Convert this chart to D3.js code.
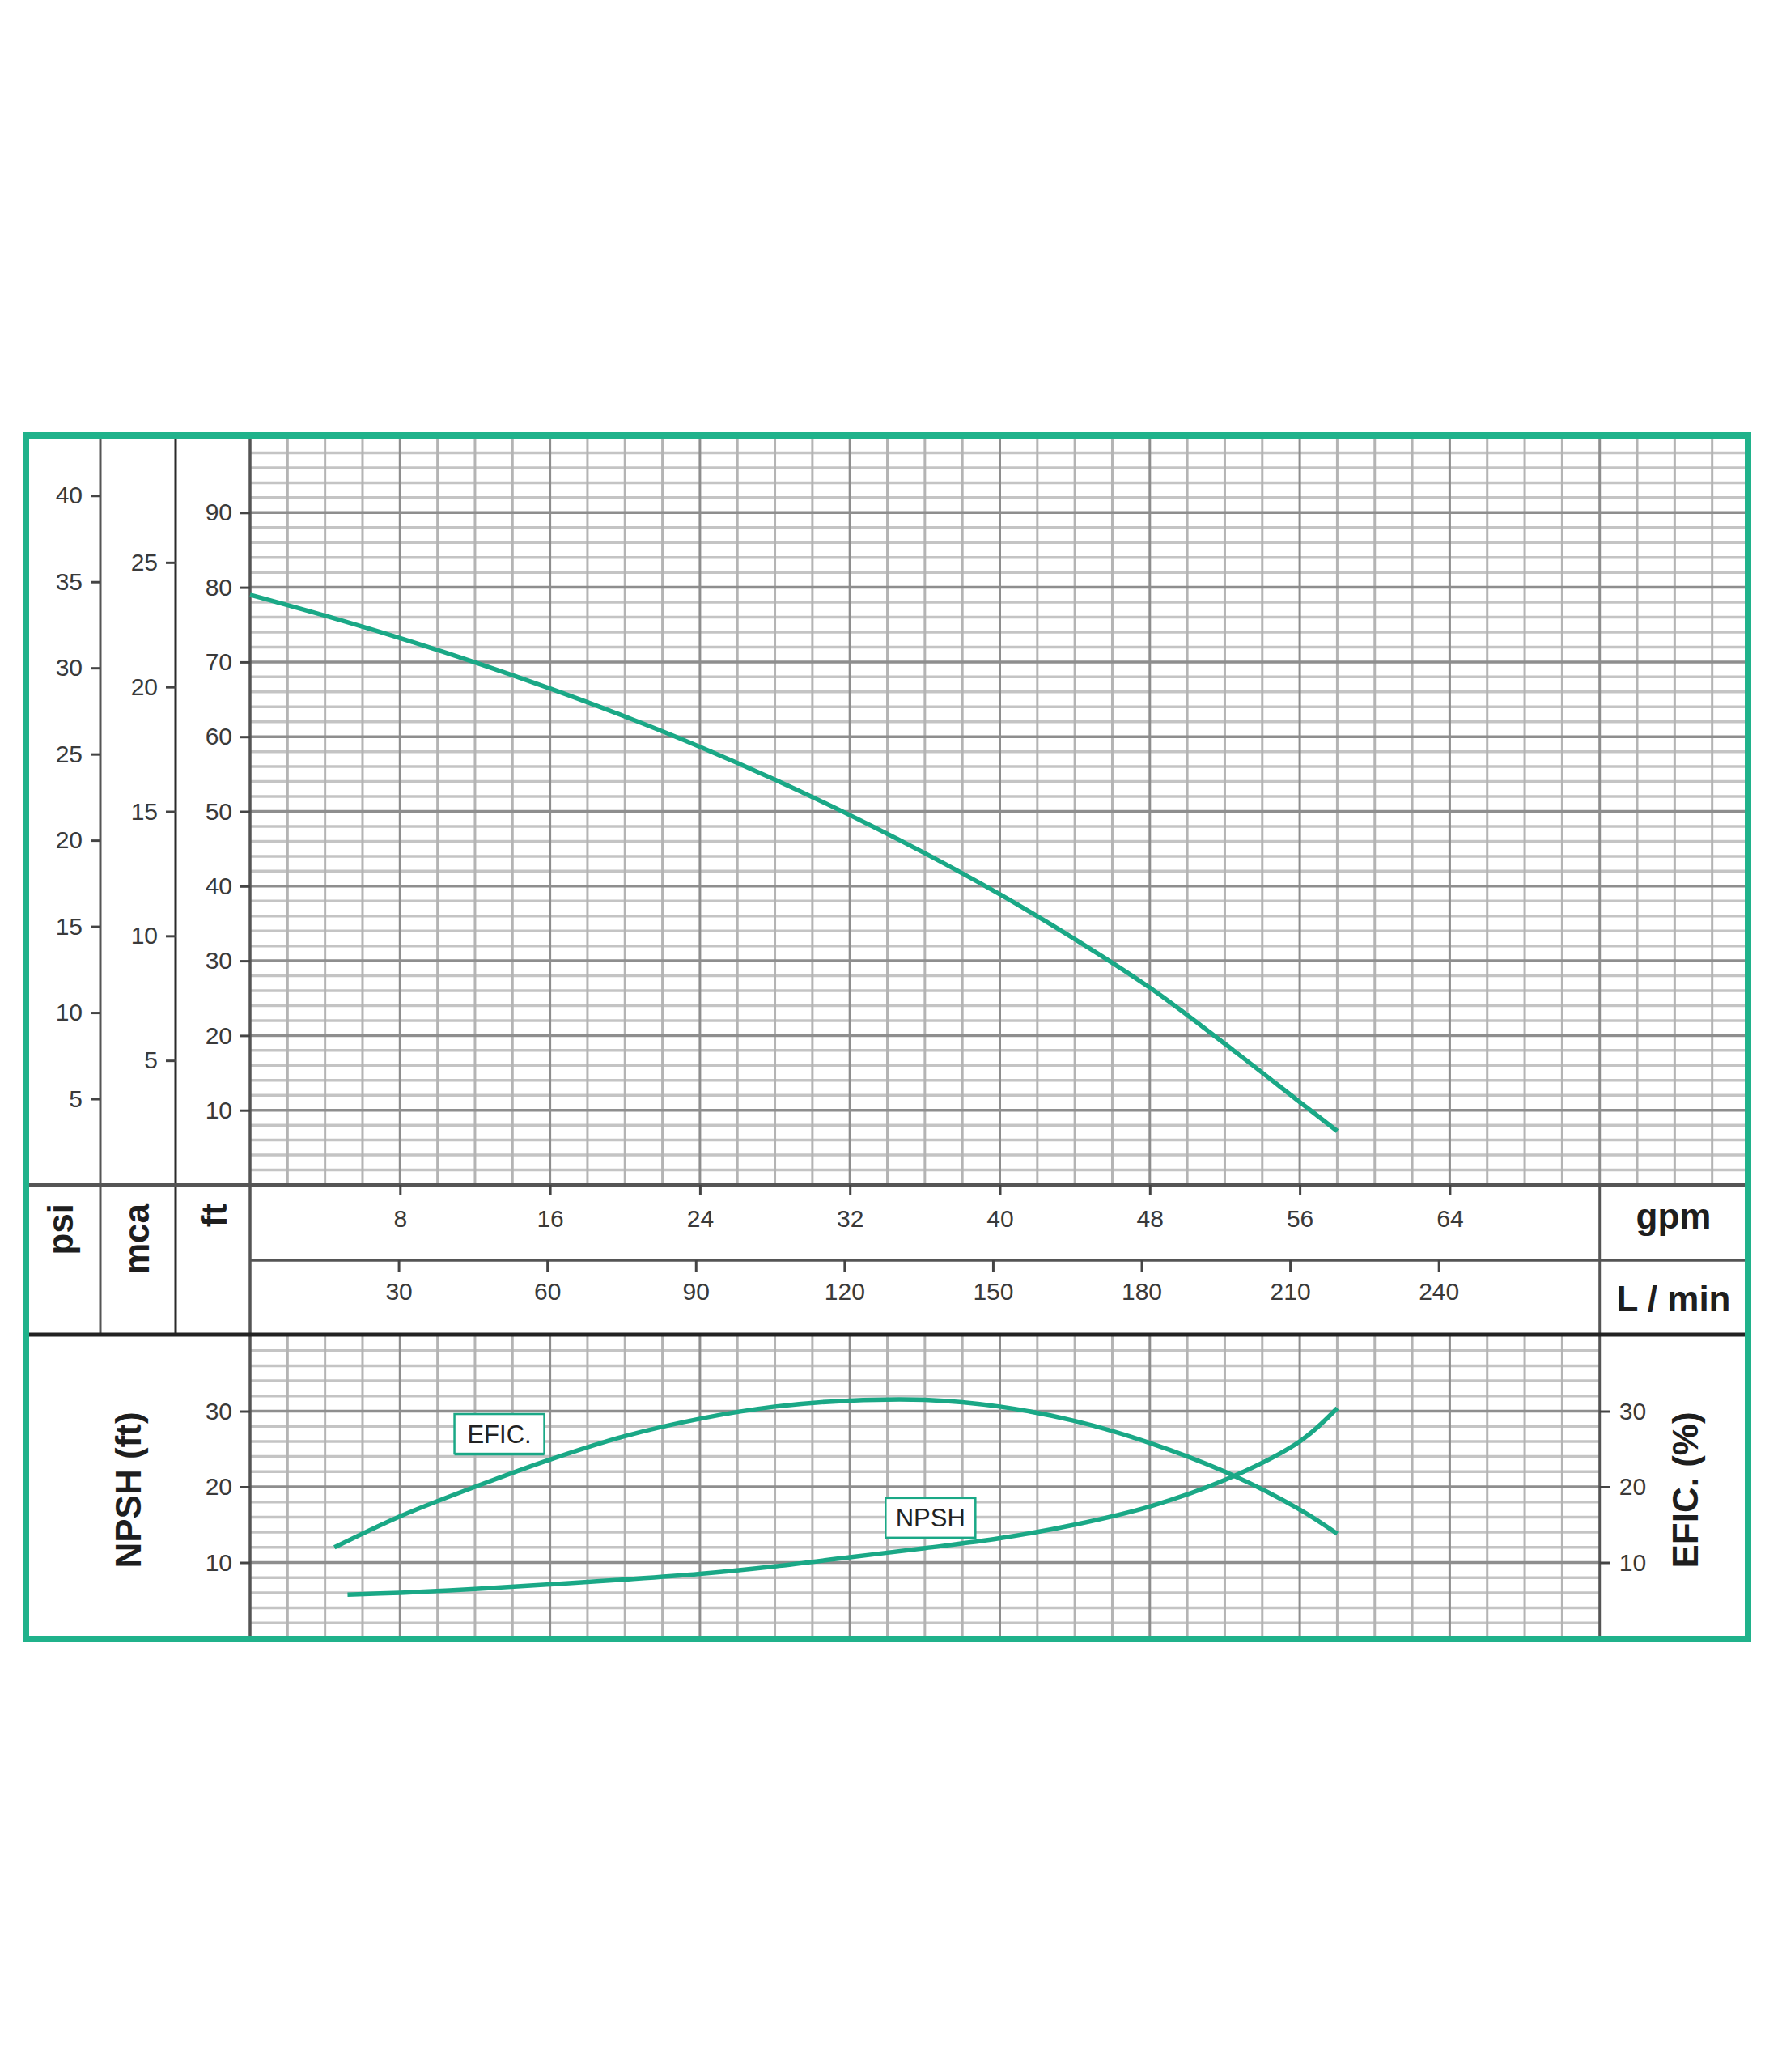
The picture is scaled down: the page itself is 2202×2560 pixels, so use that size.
<!DOCTYPE html>
<html><head><meta charset="utf-8">
<script src="https://cdn.jsdelivr.net/npm/d3@7"></script>
<style>
html,body{margin:0;padding:0;background:#fff;}
svg{display:block;}
text{font-family:"Liberation Sans",Arial,Helvetica,sans-serif;}
</style>
</head><body>
<svg id="c" width="2202" height="2560"></svg>
<script>
// ---------- data ----------
const gpmTicks  = [8,16,24,32,40,48,56,64];
const lpmTicks  = [30,60,90,120,150,180,210,240];
const psiTicks  = [5,10,15,20,25,30,35,40];
const mcaTicks  = [5,10,15,20,25];
const ftTicks   = [10,20,30,40,50,60,70,80,90];
const npshTicks = [10,20,30];
const eficTicks = [10,20,30];

const headGpm = [0,4,8,12,16,20,24,28,32,36,40,44,48,52,56,58];
const headFt  = [79.0,76.2,73.2,69.95,66.45,62.7,58.65,54.25,49.5,44.4,38.9,32.9,26.4,18.9,11.1,7.2];

const eficGpm = [4.5,8,12,16,20,24,28,32,36,40,44,48,52,56,58];
const eficPct = [12.0,16.1,20.0,23.6,26.7,29.0,30.6,31.4,31.5,30.6,28.7,25.8,22.0,17.0,13.8];

const npshGpm = [5.2,8,12,16,20,24,28,32,36,40,44,48,52,56,58];
const npshFt  = [5.75,6.0,6.5,7.1,7.75,8.5,9.5,10.7,11.9,13.2,15.0,17.4,20.9,26.0,30.4];

const labelText = ["EFIC.","NPSH"];
const labelGpm  = [13.3,36.3];
const labelVal  = [27.0,15.9];

// ---------- layout ----------
const L = 32, R = 2160, T = 538, B = 2025;
const colPsi = 124, colMca = 217, plotL = 309;
const headBottom = 1464, rowMid = 1557, rowBottom = 1649;
const GREEN_BORDER = "#20b28b", GREEN = "#1aa886";
const TXT = "#3a3a3a";

const x    = d3.scaleLinear([0,80],[plotL,2162]);
const xL   = d3.scaleLinear([0,80*3.785],[plotL,2162]);
const yFt  = d3.scaleLinear([0,100],[headBottom,541]);
const yPsi = d3.scaleLinear([0,100/2.307],[headBottom,541]);
const yMca = d3.scaleLinear([0,30],[headBottom,541]);
const yLo  = d3.scaleLinear([0,40],[2024,1650]);
const lowR = x(72);

const svg = d3.select("#c");
svg.append("rect").attr("width",2202).attr("height",2560).attr("fill","#fff");

// ---------- grids ----------
const g = svg.append("g");
function hGrid(vals, scale, x1, x2, major){
  g.selectAll(null).data(vals).enter().append("line")
    .attr("x1",x1).attr("x2",x2)
    .attr("y1",d=>scale(d)).attr("y2",d=>scale(d))
    .attr("stroke", major ? "#8e8e8e" : "#c4c4c4")
    .attr("stroke-width", 3.5);
}
function vGrid(vals, y1, y2, major){
  g.selectAll(null).data(vals).enter().append("line")
    .attr("y1",y1).attr("y2",y2)
    .attr("x1",d=>x(d)).attr("x2",d=>x(d))
    .attr("stroke", major ? "#8e8e8e" : "#b4b4b4")
    .attr("stroke-width", 3);
}
const hMinor = d3.range(2,100,2).filter(v=>v%10!==0);
const hMajor = d3.range(10,100,10);
const vMinorHead = d3.range(2,80,2).filter(v=>v%8!==0);
const vMajorHead = d3.range(8,80,8);
hGrid(hMinor, yFt, plotL, R, false);
vGrid(vMinorHead, yFt(100), headBottom, false);
vGrid(vMajorHead, yFt(100), headBottom, true);
hGrid(hMajor, yFt, plotL, R, true);
const lMinor = d3.range(2,40,2).filter(v=>v%10!==0);
const lMajor = [10,20,30];
const vMinorLow = d3.range(2,72,2).filter(v=>v%8!==0);
const vMajorLow = d3.range(8,72,8);
hGrid(lMinor, yLo, plotL, lowR, false);
vGrid(vMinorLow, rowBottom, B, false);
vGrid(vMajorLow, rowBottom, B, true);
hGrid(lMajor, yLo, plotL, lowR, true);

// ---------- frame lines ----------
const frame = svg.append("g").attr("fill","none");
function ln(x1,y1,x2,y2,c,w){frame.append("line").attr("x1",x1).attr("y1",y1).attr("x2",x2).attr("y2",y2).attr("stroke",c).attr("stroke-width",w);}
ln(colPsi,T,colPsi,rowBottom,"#555",3);
ln(colMca,T,colMca,rowBottom,"#2a2a2a",3);
ln(plotL,T,plotL,B,"#555",3.5);
ln(lowR,headBottom,lowR,B,"#555",3);
ln(L,headBottom,R,headBottom,"#555",4);
ln(plotL,rowMid,R,rowMid,"#555",3.5);
ln(L,rowBottom,R,rowBottom,"#222",5);

// ---------- axes ----------
function styleAxis(sel, fs){
  sel.select(".domain").remove();
  sel.selectAll(".tick line").attr("stroke","#444").attr("stroke-width",3);
  sel.selectAll(".tick text").attr("fill",TXT).attr("font-size",fs)
     .attr("font-family",'"Liberation Sans",Arial,sans-serif');
}
const fsT = 30;
svg.append("g").attr("transform",`translate(${colPsi},0)`)
  .call(d3.axisLeft(yPsi).tickValues(psiTicks).tickSize(12).tickPadding(10).tickFormat(d3.format("d")))
  .call(s=>styleAxis(s,fsT));
svg.append("g").attr("transform",`translate(${colMca},0)`)
  .call(d3.axisLeft(yMca).tickValues(mcaTicks).tickSize(12).tickPadding(10).tickFormat(d3.format("d")))
  .call(s=>styleAxis(s,fsT));
svg.append("g").attr("transform",`translate(${plotL},0)`)
  .call(d3.axisLeft(yFt).tickValues(ftTicks).tickSize(12).tickPadding(10).tickFormat(d3.format("d")))
  .call(s=>styleAxis(s,fsT));
svg.append("g").attr("transform",`translate(0,${headBottom})`)
  .call(d3.axisBottom(x).tickValues(gpmTicks).tickSize(13).tickPadding(18).tickFormat(d3.format("d")))
  .call(s=>styleAxis(s,fsT));
svg.append("g").attr("transform",`translate(0,${rowMid})`)
  .call(d3.axisBottom(xL).tickValues(lpmTicks).tickSize(14).tickPadding(14).tickFormat(d3.format("d")))
  .call(s=>styleAxis(s,fsT));
svg.append("g").attr("transform",`translate(${plotL},0)`)
  .call(d3.axisLeft(yLo).tickValues(npshTicks).tickSize(12).tickPadding(10).tickFormat(d3.format("d")))
  .call(s=>styleAxis(s,fsT));
svg.append("g").attr("transform",`translate(${lowR},0)`)
  .call(d3.axisRight(yLo).tickValues(eficTicks).tickSize(13).tickPadding(11).tickFormat(d3.format("d")))
  .call(s=>styleAxis(s,fsT));

// ---------- curves ----------
const curve = d3.curveCatmullRom.alpha(0.5);
const headLine = d3.line().x((d,i)=>x(headGpm[i])).y(d=>yFt(d)).curve(curve);
const eficLine = d3.line().x((d,i)=>x(eficGpm[i])).y(d=>yLo(d)).curve(curve);
const npshLine = d3.line().x((d,i)=>x(npshGpm[i])).y(d=>yLo(d)).curve(curve);
svg.append("path").attr("d",headLine(headFt)).attr("fill","none").attr("stroke",GREEN).attr("stroke-width",5.5);
svg.append("path").attr("d",eficLine(eficPct)).attr("fill","none").attr("stroke",GREEN).attr("stroke-width",5.5);
svg.append("path").attr("d",npshLine(npshFt)).attr("fill","none").attr("stroke",GREEN).attr("stroke-width",5.5);

// ---------- curve labels ----------
const bw = 111, bh = 49;
labelText.forEach((t,i)=>{
  const cx = x(labelGpm[i]), cy = yLo(labelVal[i]);
  svg.append("rect").attr("x",cx-bw/2).attr("y",cy-bh/2).attr("width",bw).attr("height",bh)
    .attr("fill","#fff").attr("stroke",GREEN).attr("stroke-width",2.5);
  svg.append("line").attr("x1",cx-bw/2).attr("x2",cx+bw/2).attr("y1",cy+bh/2+1).attr("y2",cy+bh/2+1)
    .attr("stroke",GREEN).attr("stroke-width",2.5);
  svg.append("text").attr("x",cx).attr("y",cy+11).attr("text-anchor","middle")
    .attr("font-size",31).attr("fill","#222").text(t);
});

// ---------- unit labels ----------
function rotText(tx,ty,anchor,s){
  svg.append("text").attr("transform",`translate(${tx},${ty}) rotate(-90)`)
    .attr("text-anchor",anchor).attr("font-size",44).attr("font-weight","bold").attr("fill","#1e1e1e").text(s);
}
rotText(90,1487,"end","psi");
rotText(184,1487,"end","mca");
rotText(280,1487,"end","ft");
rotText(174,1841,"middle","NPSH (ft)");
rotText(2098,1841,"middle","EFIC. (%)");
svg.append("text").attr("x",2068).attr("y",1518).attr("text-anchor","middle")
  .attr("font-size",44).attr("font-weight","bold").attr("fill","#1e1e1e").text("gpm");
svg.append("text").attr("x",2068).attr("y",1620).attr("text-anchor","middle")
  .attr("font-size",44).attr("font-weight","bold").attr("fill","#1e1e1e").text("L / min");

// ---------- outer border ----------
svg.append("rect").attr("x",L).attr("y",T).attr("width",R-L).attr("height",B-T)
  .attr("fill","none").attr("stroke",GREEN_BORDER).attr("stroke-width",8);
</script>
</body></html>
